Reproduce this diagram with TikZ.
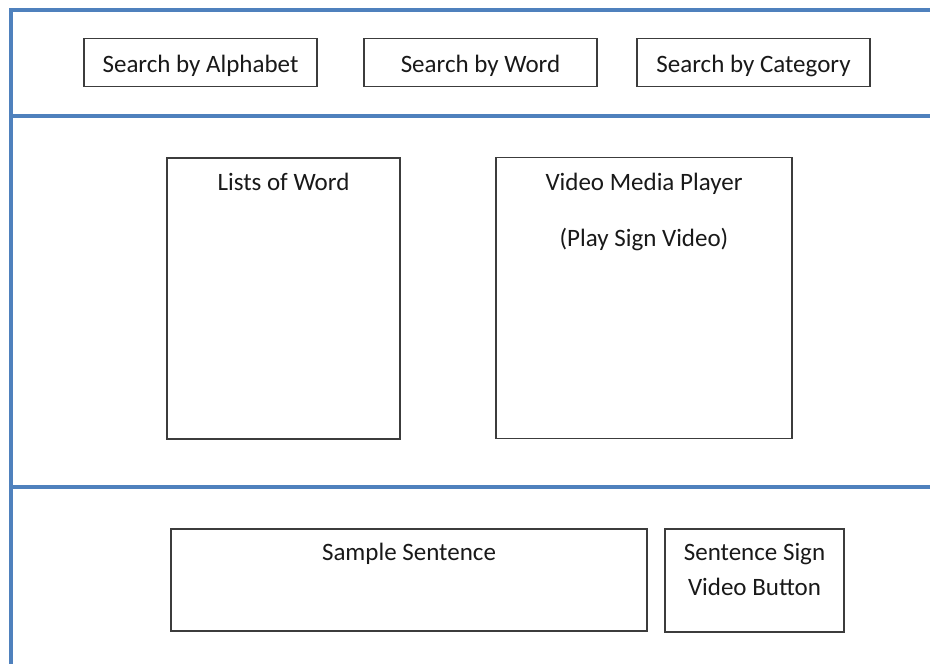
\documentclass[tikz,border=0pt]{standalone}
\usepackage{fontspec}
\setmainfont{Carlito}
\definecolor{officeblue}{RGB}{79,129,189}
\definecolor{boxgray}{RGB}{60,60,60}
\definecolor{txtgray}{RGB}{25,25,25}
\begin{document}
\begin{tikzpicture}[x=1pt,y=-1pt,
  panel/.style={draw=officeblue,line width=3.2pt},
  uibox/.style={draw=boxgray,line width=1.8pt,fill=white,inner sep=0pt},
  lbl/.style={anchor=base,inner sep=0pt,text=txtgray,font=\fontsize{25}{30}\selectfont}]
\useasboundingbox (0,0) rectangle (930,664);
\fill[white] (0,0) rectangle (930,664);
% panel lines
\coordinate (pTL) at (11,10);
\coordinate (pTR) at (930,10);
\coordinate (pBL) at (11,664);
\draw[panel,line cap=rect] (pBL) -- (pTL) -- (pTR);
\draw[panel] (11,116) -- (930,116);
\draw[panel] (11,487) -- (930,487);
% top search boxes
\node[uibox,minimum width=233pt,minimum height=48pt] (alpha) at (200.5,62.5) {};
\node[uibox,minimum width=233pt,minimum height=48pt] (word) at (480.5,62.5) {};
\node[uibox,minimum width=233pt,minimum height=48pt] (cat) at (753.5,62.5) {};
\node[lbl] (alphaT) at (200.5,72) {Search by Alphabet};
\node[lbl] (wordT) at (480.5,72) {Search by Word};
\node[lbl] (catT) at (753.5,72) {Search by Category};
% middle
\node[uibox,minimum width=233pt,minimum height=281pt] (lists) at (283.5,298.5) {};
\node[uibox,minimum width=296pt,minimum height=281pt] (video) at (644,298) {};
\node[lbl] (listsT) at (283.5,190) {Lists of Word};
\node[lbl] (videoT) at (644,190) {Video Media Player};
\node[lbl] (videoT2) at (644,246) {(Play Sign Video)};
% bottom
\node[uibox,minimum width=476pt,minimum height=102pt] (sample) at (409,580) {};
\node[uibox,minimum width=179pt,minimum height=103pt] (btn) at (754.5,580.5) {};
\node[lbl] (sampleT) at (409,560) {Sample Sentence};
\node[lbl] (btnT1) at (754.5,560) {Sentence Sign};
\node[lbl] (btnT2) at (754.5,595) {Video Button};
\end{tikzpicture}
\end{document}
